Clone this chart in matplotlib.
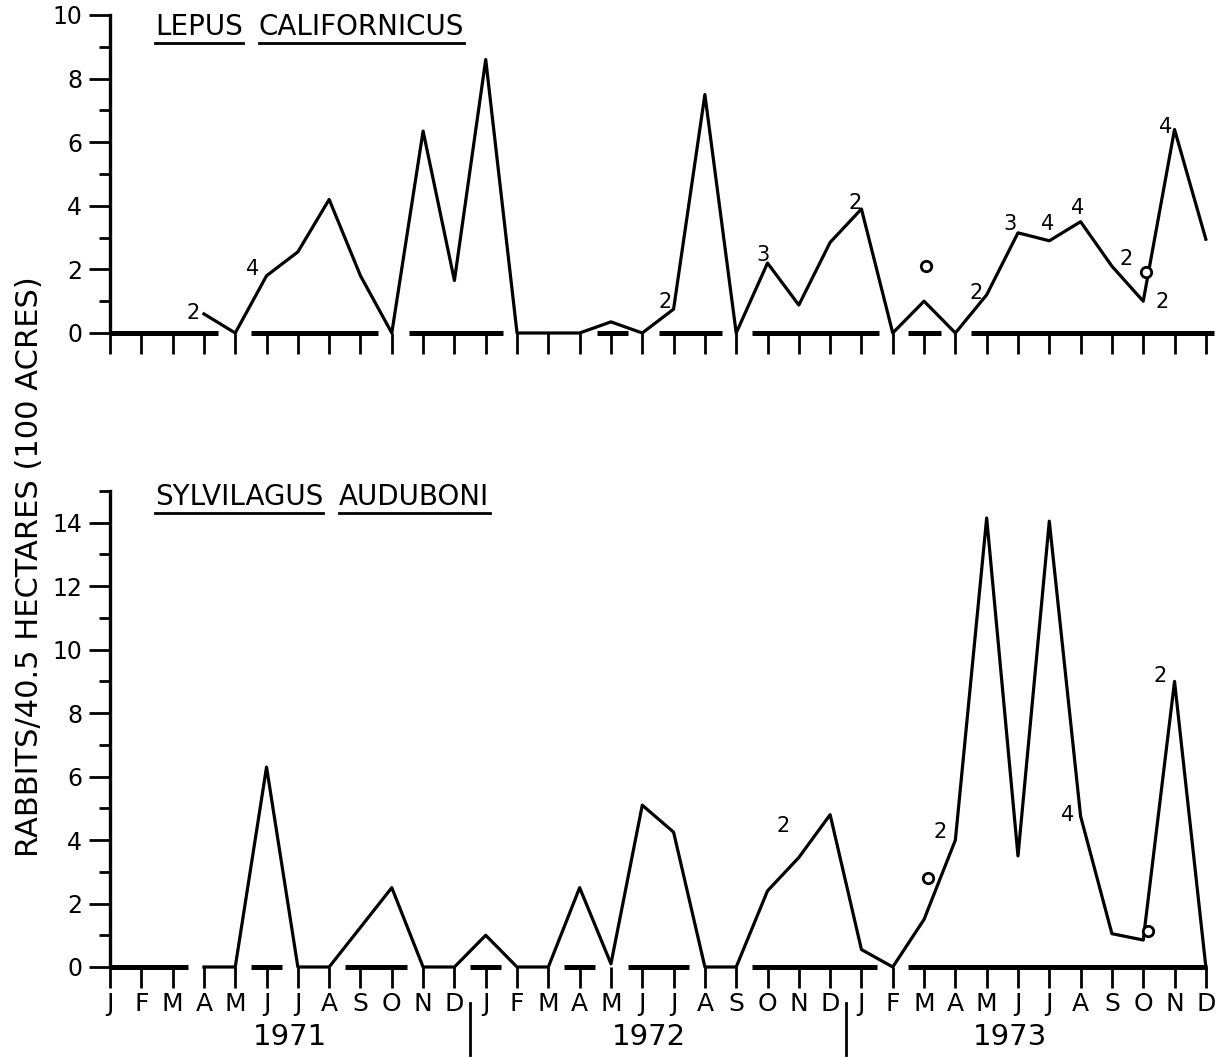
import matplotlib
matplotlib.use('Agg')
import matplotlib.pyplot as plt
from matplotlib.lines import Line2D

plt.rcParams['font.family'] = 'DejaVu Sans'

W, H = 1218, 1057

# month letters along the x axis (Jan 1971 .. Dec 1973 -> index 0..35)
months = ['J', 'F', 'M', 'A', 'M', 'J', 'J', 'A', 'S', 'O', 'N', 'D'] * 3
years = ['1971', '1972', '1973']
year_pos = [5.75, 17.2, 28.75]
year_breaks = [11.5, 23.5]

# Lepus californicus, Apr 1971 (index 3) .. Dec 1973
lepus_x = list(range(3, 36))
lepus_y = [0.6, 0, 1.8, 2.55, 4.2, 1.8, 0, 6.35, 1.65, 8.6,
           0, 0, 0, 0.35, 0, 0.75, 7.5, 0, 2.2, 0.88, 2.85, 3.9,
           0, 1.0, 0, 1.2, 3.15, 2.9, 3.5, 2.1, 1.0, 6.4, 2.95]
lepus_bars = [(0, 3.45), (4.5, 8.55), (9.55, 12.55), (15.55, 16.55),
              (17.55, 19.55), (20.5, 24.55), (25.5, 26.55), (27.5, 35.25)]
lepus_circ_x = [26.05, 33.1]
lepus_circ_y = [2.1, 1.92]
lepus_notes = [(2.65, 0.63, '2'), (4.54, 2.0, '4'), (17.73, 0.97, '2'),
               (20.86, 2.45, '3'), (23.8, 4.1, '2'), (27.66, 1.26, '2'),
               (28.74, 3.43, '3'), (29.96, 3.43, '4'), (30.92, 3.93, '4'),
               (32.45, 2.33, '2'), (33.6, 0.97, '2'), (33.73, 6.48, '4')]

# Sylvilagus audubonii, Apr 1971 .. Dec 1973
sylv_x = list(range(3, 36))
sylv_y = [0, 0, 6.3, 0, 0, 1.25, 2.5, 0, 0, 1.0,
          0, 0, 2.5, 0.1, 5.1, 4.25, 0, 0, 2.4, 3.45, 4.8, 0.55,
          0, 1.5, 4.0, 14.15, 3.5, 14.05, 4.75, 1.05, 0.85, 9.0, 0]
sylv_bars = [(0, 2.5), (4.5, 5.5), (7.5, 9.5), (11.5, 12.5), (14.5, 15.5),
             (16.55, 18.5), (20.5, 24.5), (25.5, 35.05)]
sylv_circ_x = [26.13, 33.15]
sylv_circ_y = [2.8, 1.15]
sylv_notes = [(21.5, 4.44, '2'), (26.5, 4.25, '2'), (30.57, 4.79, '4'),
              (33.54, 9.17, '2')]

fig = plt.figure(figsize=(W / 100, H / 100), dpi=100)
axw = 35.25 * 31.31 / W
ax1 = fig.add_axes([110 / W, (H - 333) / H, axw, 318 / H])
ax2 = fig.add_axes([110 / W, (H - 967) / H, axw, 476 / H])


def style(ax, ymax, bars):
    ax.set_xlim(0, 35.25)
    ax.set_ylim(0, ymax)
    for s in ['top', 'right', 'bottom']:
        ax.spines[s].set_visible(False)
    ax.spines['left'].set_linewidth(2.4)
    ax.set_yticks(range(0, ymax + 1, 2))
    ax.set_yticks(range(1, ymax + 1, 2), minor=True)
    ax.tick_params(axis='y', which='major', length=15, width=2, labelsize=17, pad=5)
    ax.tick_params(axis='y', which='minor', length=8, width=2)
    ax.set_xticks(range(36))
    ax.tick_params(axis='x', length=15, width=2, labelsize=18, pad=3)
    for a, b in bars:
        ax.plot([a, b], [0, 0], color='black', lw=3.6, solid_capstyle='butt', clip_on=False)


style(ax1, 10, lepus_bars)
style(ax2, 15, sylv_bars)
ax1.set_xticklabels([])
ax2.set_xticklabels(months)

ax1.plot(lepus_x, lepus_y, color='black', lw=2.3, clip_on=False)
ax2.plot(sylv_x, sylv_y, color='black', lw=2.3, clip_on=False)
ax1.plot(lepus_circ_x, lepus_circ_y, 'o', mfc='white', mec='black', mew=2, ms=7.5)
ax2.plot(sylv_circ_x, sylv_circ_y, 'o', mfc='white', mec='black', mew=2, ms=7.5)

for ax, notes in [(ax1, lepus_notes), (ax2, sylv_notes)]:
    for x, y, s in notes:
        ax.text(x, y, s, fontsize=15, ha='center', va='center')

# year labels and separators
tr = ax2.get_xaxis_transform()
for x, s in zip(year_pos, years):
    ax2.text(x, -(1037 - 967) / 476, s, fontsize=21, ha='center', va='center', transform=tr)
for x in year_breaks:
    ax2.add_line(Line2D([x, x], [-(1003 - 967) / 476, -(1055 - 967) / 476],
                        color='black', lw=2, transform=tr, clip_on=False))

fig.text(30 / W, 1 - 567 / H, 'RABBITS/40.5 HECTARES (100 ACRES)', rotation=90,
         ha='center', va='center', fontsize=22)

# underlined species names, one underline per word
fig.canvas.draw()
rend = fig.canvas.get_renderer()


def title_words(words, x_px, y_px):
    for w in words:
        t = fig.text(x_px / W, 1 - y_px / H, w, fontsize=20, ha='left', va='center')
        bb = t.get_window_extent(renderer=rend)
        yl = (bb.y0 - 2) / H
        fig.add_artist(Line2D([bb.x0 / W, bb.x1 / W], [yl, yl], color='black', lw=2))
        x_px = bb.x1 + 16


title_words(['LEPUS', 'CALIFORNICUS'], 155, 27)
title_words(['SYLVILAGUS', 'AUDUBONI'], 155, 497)

fig.savefig('out.png', dpi=100)
